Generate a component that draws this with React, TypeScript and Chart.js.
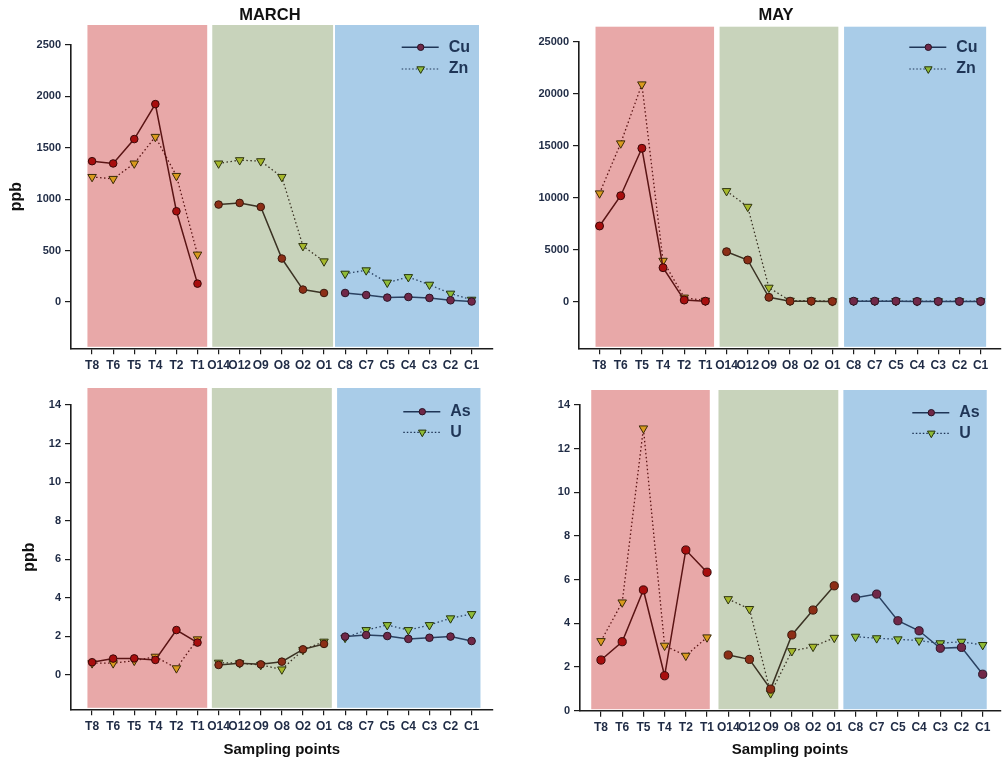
import React, { useEffect, useRef } from 'react';
import { Chart, registerables } from 'chart.js';

Chart.register(...registerables);

// ---------- DATA ----------
const SAMPLING_POINTS = ['T8', 'T6', 'T5', 'T4', 'T2', 'T1', 'O14', 'O12', 'O9', 'O8', 'O2', 'O1', 'C8', 'C7', 'C5', 'C4', 'C3', 'C2', 'C1'];

const MARCH_CU = [1370, 1348, 1585, 1925, 883, 179, 948, 964, 925, 423, 121, 88, 88, 68, 43, 49, 40, 17, 5];
const MARCH_ZN = [1217, 1198, 1348, 1607, 1227, 462, 1348, 1380, 1370, 1217, 545, 396, 276, 309, 189, 243, 169, 82, 23];

const MAY_CU = [7280, 10190, 14750, 3270, 160, 50, 4810, 4010, 420, 50, 50, 30, 50, 50, 50, 30, 30, 30, 30];
const MAY_ZN = [10420, 15230, 20900, 3940, 400, 100, 10640, 9130, 1350, 100, 100, 50, 80, 80, 60, 50, 50, 60, 50];

const MARCH_AS = [0.66, 0.85, 0.86, 0.78, 2.33, 1.68, 0.52, 0.61, 0.55, 0.69, 1.33, 1.61, 1.99, 2.07, 2.02, 1.87, 1.93, 1.99, 1.76];
const MARCH_U = [0.61, 0.61, 0.74, 0.95, 0.35, 1.85, 0.64, 0.61, 0.52, 0.29, 1.3, 1.73, 1.93, 2.33, 2.59, 2.33, 2.59, 2.94, 3.16];

const MAY_AS = [2.32, 3.16, 5.53, 1.6, 7.36, 6.34, 2.55, 2.35, 0.99, 3.47, 4.61, 5.72, 5.17, 5.34, 4.12, 3.66, 2.86, 2.9, 1.67];
const MAY_U = [3.19, 4.96, 12.93, 2.98, 2.52, 3.36, 5.11, 4.66, 0.8, 2.73, 2.93, 3.34, 3.39, 3.32, 3.27, 3.21, 3.09, 3.16, 3.01];

const TICKS_MARCH_CUZN = [0, 500, 1000, 1500, 2000, 2500];
const TICKS_MAY_CUZN = [0, 5000, 10000, 15000, 20000, 25000];
const TICKS_ASU = [0, 2, 4, 6, 8, 10, 12, 14];

// ---------- STYLE ----------
const FONT = "'Liberation Sans', Arial, Helvetica, sans-serif";
const AXIS = '#1c1c1c';
const TICK_TEXT = '#1f2b45';
const LEGEND_TEXT = '#1f3556';
const BAND_COLORS = ['#e8a8a8', '#c8d3bb', '#a9cce8'];

const groupOf = (label: string) => (label[0] === 'T' ? 0 : label[0] === 'O' ? 1 : 2);
const LINE_COLORS = ['#5a1414', '#3b3324', '#2b4262'];
const A_FILL = ['#a80e0e', '#8c2e16', '#702848'];
const A_BORDER = ['#3a0808', '#3a180c', '#2a1426'];
const B_FILL = ['#d99b1e', '#a6b82a', '#8fbb38'];
const B_BORDER = ['#3a2a08', '#2e3410', '#24340e'];

type PanelCfg = {
  box: { left: number; top: number; width: number; height: number };
  area: { l: number; t: number; r: number; b: number };
  xMin: number;
  xMax: number;
  yMin: number;
  yMax: number;
  yTicks: number[];
  names: [string, string];
  a: number[];
  b: number[];
  bands: [number, number][];
  bandRise: number;
  title?: string;
  titleDx?: number;
  yTitleX?: number;
  xTitleY?: number;
  legendX: number;
  legendY: [number, number];
  aRadius: number;
  bRadius: number;
};

const Y_W = 50;
const X_H = 26;

function triangleDown(ctx: CanvasRenderingContext2D, cx: number, cy: number, r: number) {
  const s = Math.sin(Math.PI / 3) * r;
  ctx.beginPath();
  ctx.moveTo(cx, cy + r);
  ctx.lineTo(cx - s, cy - r / 2);
  ctx.lineTo(cx + s, cy - r / 2);
  ctx.closePath();
}

function Panel({ cfg }: { cfg: PanelCfg }) {
  const ref = useRef<HTMLCanvasElement | null>(null);

  useEffect(() => {
    if (!ref.current) return;
    const groups = SAMPLING_POINTS.map(groupOf);
    const lastInGroup = (i: number) => i + 1 < groups.length && groups[i + 1] !== groups[i];
    const segColor = (ctx: any) =>
      lastInGroup(ctx.p0DataIndex) ? 'rgba(0,0,0,0)' : LINE_COLORS[groups[ctx.p0DataIndex]];

    const decor = {
      id: 'decor',
      beforeDraw(chart: any) {
        const { ctx, chartArea: a, scales } = chart;
        const x = scales.x;
        ctx.save();
        const top = a.top - cfg.bandRise;
        const bottom = a.bottom - 1.5;
        cfg.bands.forEach(([x0, x1], i) => {
          const l = x.getPixelForValue(x0);
          const r = x.getPixelForValue(x1);
          ctx.fillStyle = BAND_COLORS[i];
          ctx.fillRect(l, top, r - l, bottom - top);
        });
        ctx.restore();
      },
      afterDraw(chart: any) {
        const { ctx, chartArea: a } = chart;
        ctx.save();
        if (cfg.title) {
          ctx.font = `bold 16.5px ${FONT}`;
          ctx.fillStyle = '#111';
          ctx.textAlign = 'center';
          ctx.textBaseline = 'middle';
          ctx.fillText(cfg.title, (a.left + a.right) / 2 + (cfg.titleDx || 0), 15);
        }
        if (cfg.yTitleX !== undefined) {
          ctx.save();
          ctx.translate(cfg.yTitleX, (a.top + a.bottom) / 2);
          ctx.rotate(-Math.PI / 2);
          ctx.font = `bold 16px ${FONT}`;
          ctx.fillStyle = '#111';
          ctx.textAlign = 'center';
          ctx.textBaseline = 'middle';
          ctx.fillText('ppb', 0, 0);
          ctx.restore();
        }
        if (cfg.xTitleY !== undefined) {
          ctx.font = `bold 15px ${FONT}`;
          ctx.fillStyle = '#111';
          ctx.textAlign = 'center';
          ctx.textBaseline = 'middle';
          ctx.fillText('Sampling points', (a.left + a.right) / 2, cfg.xTitleY);
        }
        // legend
        const lx = cfg.legendX;
        const len = 37;
        const mid = lx + 19;
        let y = cfg.legendY[0];
        ctx.strokeStyle = LEGEND_TEXT;
        ctx.lineWidth = 1.5;
        ctx.setLineDash([]);
        ctx.beginPath();
        ctx.moveTo(lx, y);
        ctx.lineTo(lx + len, y);
        ctx.stroke();
        ctx.beginPath();
        ctx.arc(mid, y, 3.2, 0, Math.PI * 2);
        ctx.fillStyle = A_FILL[2];
        ctx.fill();
        ctx.lineWidth = 1;
        ctx.strokeStyle = A_BORDER[2];
        ctx.stroke();
        ctx.font = `bold 16px ${FONT}`;
        ctx.fillStyle = LEGEND_TEXT;
        ctx.textAlign = 'left';
        ctx.textBaseline = 'middle';
        ctx.fillText(cfg.names[0], lx + 47, y);
        y = cfg.legendY[1];
        ctx.strokeStyle = LEGEND_TEXT;
        ctx.lineWidth = 1.2;
        ctx.setLineDash([1.5, 2]);
        ctx.beginPath();
        ctx.moveTo(lx, y);
        ctx.lineTo(lx + len, y);
        ctx.stroke();
        ctx.setLineDash([]);
        triangleDown(ctx, mid, y, 4.4);
        ctx.fillStyle = B_FILL[2];
        ctx.fill();
        ctx.lineWidth = 1;
        ctx.strokeStyle = B_BORDER[2];
        ctx.stroke();
        ctx.fillStyle = LEGEND_TEXT;
        ctx.fillText(cfg.names[1], lx + 47, y);
        ctx.restore();
      },
    };

    const chart = new Chart(ref.current, {
      type: 'line',
      data: {
        datasets: [
          {
            label: cfg.names[0],
            data: cfg.a.map((v, i) => ({ x: i, y: v })),
            borderColor: LINE_COLORS[0],
            borderWidth: 1.5,
            pointStyle: 'circle',
            pointRadius: cfg.aRadius,
            pointBorderWidth: 1,
            pointBackgroundColor: groups.map((g) => A_FILL[g]),
            pointBorderColor: groups.map((g) => A_BORDER[g]),
            segment: { borderColor: segColor },
            tension: 0,
            order: 1,
          },
          {
            label: cfg.names[1],
            data: cfg.b.map((v, i) => ({ x: i, y: v })),
            borderColor: LINE_COLORS[0],
            borderWidth: 1.3,
            borderDash: [1.5, 2.5],
            pointStyle: 'triangle',
            rotation: 180,
            pointRadius: cfg.bRadius,
            pointBorderWidth: 1,
            pointBackgroundColor: groups.map((g) => B_FILL[g]),
            pointBorderColor: groups.map((g) => B_BORDER[g]),
            segment: { borderColor: segColor },
            tension: 0,
            order: 2,
          },
        ],
      },
      options: {
        animation: false,
        responsive: false,
        events: [],
        layout: {
          padding: {
            left: cfg.area.l - Y_W,
            top: cfg.area.t,
            right: cfg.box.width - cfg.area.r,
            bottom: cfg.box.height - cfg.area.b - X_H,
          },
        },
        plugins: {
          legend: { display: false },
          tooltip: { enabled: false },
          title: { display: false },
        },
        scales: {
          x: {
            type: 'linear',
            min: cfg.xMin,
            max: cfg.xMax,
            afterBuildTicks: (s: any) => {
              s.ticks = SAMPLING_POINTS.map((_, i) => ({ value: i }));
            },
            afterFit: (s: any) => {
              s.height = X_H;
            },
            ticks: {
              autoSkip: false,
              maxRotation: 0,
              minRotation: 0,
              padding: 4,
              color: TICK_TEXT,
              font: { family: FONT, size: 12, weight: 'bold' },
              callback: (v: any) => SAMPLING_POINTS[Math.round(Number(v))] ?? '',
            },
            grid: { drawOnChartArea: false, drawTicks: true, tickLength: 6, color: AXIS, lineWidth: 1.2 },
            border: { display: true, color: AXIS, width: 1.6 },
          },
          y: {
            type: 'linear',
            min: cfg.yMin,
            max: cfg.yMax,
            afterBuildTicks: (s: any) => {
              s.ticks = cfg.yTicks.map((v) => ({ value: v }));
            },
            afterFit: (s: any) => {
              s.width = Y_W;
            },
            ticks: {
              padding: 4,
              color: TICK_TEXT,
              font: { family: FONT, size: 11, weight: 'bold' },
              callback: (v: any) => String(v),
            },
            grid: { drawOnChartArea: false, drawTicks: true, tickLength: 6, color: AXIS, lineWidth: 1.2 },
            border: { display: true, color: AXIS, width: 1.6 },
          },
        },
      } as any,
      plugins: [decor],
    });
    return () => chart.destroy();
  }, [cfg]);

  return (
    <canvas
      ref={ref}
      width={cfg.box.width}
      height={cfg.box.height}
      style={{ position: 'absolute', left: cfg.box.left, top: cfg.box.top, width: cfg.box.width, height: cfg.box.height }}
    />
  );
}

const PANELS: PanelCfg[] = [
  {
    box: { left: 0, top: 0, width: 503, height: 372 },
    area: { l: 71, t: 45, r: 492.7, b: 348.3 },
    xMin: -1,
    xMax: 19,
    yMin: -450,
    yMax: 2500,
    yTicks: TICKS_MARCH_CUZN,
    names: ['Cu', 'Zn'],
    a: MARCH_CU,
    b: MARCH_ZN,
    bands: [[-0.22, 5.46], [5.7, 11.43], [11.52, 18.35]],
    bandRise: 20,
    title: 'MARCH',
    titleDx: -12,
    yTitleX: 17,
    legendX: 401.7,
    legendY: [47.3, 69],
    aRadius: 3.8,
    bRadius: 4.9,
  },
  {
    box: { left: 503, top: 0, width: 503, height: 372 },
    area: { l: 76, t: 41.7, r: 500.3, b: 348.3 },
    xMin: -0.97,
    xMax: 18.92,
    yMin: -4480,
    yMax: 25000,
    yTicks: TICKS_MAY_CUZN,
    names: ['Cu', 'Zn'],
    a: MAY_CU,
    b: MAY_ZN,
    bands: [[-0.19, 5.41], [5.67, 11.28], [11.55, 18.26]],
    bandRise: 15,
    title: 'MAY',
    titleDx: -13.5,
    legendX: 406.3,
    legendY: [47.3, 69],
    aRadius: 4,
    bRadius: 4.9,
  },
  {
    box: { left: 0, top: 372, width: 503, height: 390 },
    area: { l: 71, t: 33, r: 492.7, b: 337.3 },
    xMin: -1,
    xMax: 19,
    yMin: -1.78,
    yMax: 14,
    yTicks: TICKS_ASU,
    names: ['As', 'U'],
    a: MARCH_AS,
    b: MARCH_U,
    bands: [[-0.22, 5.46], [5.68, 11.37], [11.62, 18.42]],
    bandRise: 17,
    yTitleX: 30,
    xTitleY: 378,
    legendX: 403.3,
    legendY: [39.7, 60.3],
    aRadius: 3.8,
    bRadius: 4.9,
  },
  {
    box: { left: 503, top: 372, width: 503, height: 390 },
    area: { l: 77, t: 33, r: 498.7, b: 338.7 },
    xMin: -0.99,
    xMax: 18.82,
    yMin: 0,
    yMax: 14,
    yTicks: TICKS_ASU,
    names: ['As', 'U'],
    a: MAY_AS,
    b: MAY_U,
    bands: [[-0.46, 5.13], [5.54, 11.19], [11.43, 18.19]],
    bandRise: 15,
    xTitleY: 378,
    legendX: 409.3,
    legendY: [40.7, 61.3],
    aRadius: 4.1,
    bRadius: 4.9,
  },
];

export default function App() {
  return (
    <div style={{ position: 'absolute', left: 0, top: 0, width: 1006, height: 762, background: '#ffffff', overflow: 'hidden' }}>
      {PANELS.map((p, i) => (
        <Panel key={i} cfg={p} />
      ))}
    </div>
  );
}
